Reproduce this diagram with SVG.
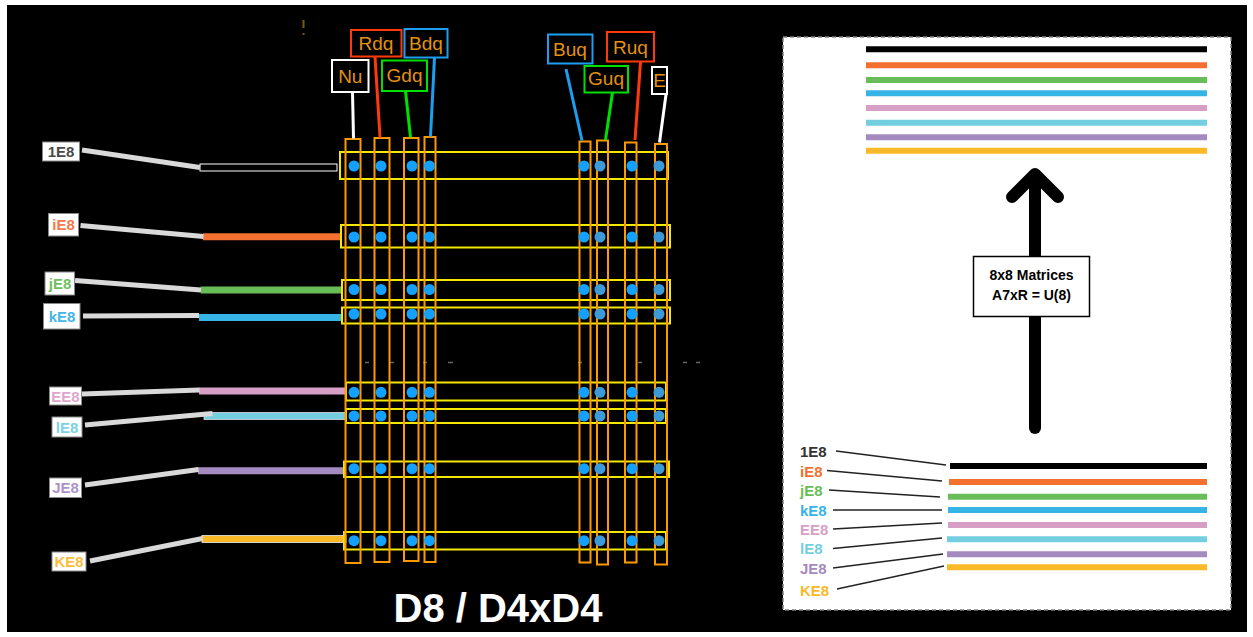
<svg xmlns="http://www.w3.org/2000/svg" width="1253" height="637" viewBox="0 0 1253 637">
<style>
.col{fill:none;stroke:#ff9900;stroke-width:2}
.row{fill:none;stroke:#f5e800;stroke-width:2}
.dot{fill:#14a0ff}
.dotm{fill:#3d9ad8}
.tl{font-family:"Liberation Sans",Arial,sans-serif;font-size:19px;fill:#e39210;text-anchor:middle}
.lb{fill:#ffffff;stroke:#888;stroke-width:1}
.lt{font-family:"Liberation Sans",Arial,sans-serif;font-size:15px;font-weight:bold;text-anchor:middle}
.lead{stroke:#d9d9d9;stroke-width:5;fill:none}
.bar{stroke-width:7;fill:none}
.rb{stroke-width:6;fill:none}
.rl{stroke:#222;stroke-width:1.3;fill:none}
.rt{font-family:"Liberation Sans",Arial,sans-serif;font-size:14px;font-weight:bold}
.rlt{font-family:"Liberation Sans",Arial,sans-serif;font-size:15px;font-weight:bold}
</style>
<rect x="0" y="0" width="1253" height="637" fill="#ffffff"/>
<rect x="7" y="5" width="1240" height="627" fill="#000000"/>

<!-- stray marks -->
<rect x="302.5" y="20" width="2" height="8" fill="#7a5a10"/>
<rect x="302.5" y="33" width="2" height="2" fill="#7a5a10"/>
<g stroke="#666" stroke-width="1.5">
<line x1="365" y1="362.5" x2="369" y2="362.5"/><line x1="390" y1="362.5" x2="394" y2="362.5"/>
<line x1="423" y1="362.5" x2="427" y2="362.5"/><line x1="448" y1="362.5" x2="453" y2="362.5"/>
<line x1="578" y1="362.5" x2="582" y2="362.5"/><line x1="638" y1="362.5" x2="642" y2="362.5"/>
<line x1="683" y1="362.5" x2="687" y2="362.5"/><line x1="696" y1="362.5" x2="700" y2="362.5"/>
</g>

<!-- left colored bars -->
<g id="bars-left">
<rect x="200" y="164" width="137" height="7" fill="#000" stroke="#ffffff" stroke-width="1"/>
<line class="bar" x1="203" y1="236.7" x2="341" y2="236.7" stroke="#f37030"/>
<line class="bar" x1="200.7" y1="290" x2="342" y2="290" stroke="#68bd58"/>
<line class="bar" x1="199" y1="317.5" x2="342" y2="317.5" stroke="#37b4e6"/>
<line class="bar" x1="199" y1="391" x2="346" y2="391" stroke="#d89fc6"/>
<rect x="204" y="412.5" width="142" height="7" fill="#73cfdf" stroke="#dddddd" stroke-width="0.8"/>
<line class="bar" x1="198" y1="470.7" x2="346" y2="470.7" stroke="#a58ac0"/>
<rect x="202" y="535.5" width="144" height="7" fill="#f9b928" stroke="#eeeeee" stroke-width="0.8"/>
</g>

<!-- grid rows -->
<g id="rows">
<rect class="row" x="340" y="152" width="328" height="27"/>
<rect class="row" x="341" y="225" width="329" height="22.5"/>
<rect class="row" x="342" y="280" width="328" height="20"/>
<rect class="row" x="342" y="307.5" width="328" height="16"/>
<rect class="row" x="346" y="382.5" width="320" height="18"/>
<rect class="row" x="346" y="409" width="320" height="14"/>
<rect class="row" x="344" y="461.5" width="325" height="15.5"/>
<rect class="row" x="344" y="532" width="322" height="17.5"/>
</g>

<!-- grid columns -->
<g id="columns">
<rect class="col" x="345.5" y="139" width="15" height="424"/>
<rect class="col" x="374.5" y="138" width="15" height="424"/>
<rect class="col" x="404" y="138" width="14.5" height="423"/>
<rect class="col" x="424.5" y="137" width="11" height="425"/>
<rect class="col" x="579.5" y="141.5" width="11" height="421"/>
<rect class="col" x="597" y="140.5" width="11" height="424"/>
<rect class="col" x="625" y="142.5" width="11.5" height="420"/>
<rect class="col" x="655" y="144" width="12" height="420.5"/>
</g>

<!-- dots -->
<g id="dots">
<g transform="translate(0,166)"><circle class="dot" cx="354" cy="0" r="5.5"/><circle class="dot" cx="381" cy="0" r="5.5"/><circle class="dot" cx="412" cy="0" r="5.5"/><circle class="dot" cx="429.5" cy="0" r="5.5"/><circle class="dot" cx="584" cy="0" r="5.5"/><circle class="dotm" cx="600" cy="0" r="5.5"/><circle class="dot" cx="632" cy="0" r="5.5"/><circle class="dotm" cx="659" cy="0" r="5.5"/></g>
<g transform="translate(0,237)"><circle class="dot" cx="354" cy="0" r="5.5"/><circle class="dot" cx="381" cy="0" r="5.5"/><circle class="dot" cx="412" cy="0" r="5.5"/><circle class="dot" cx="429.5" cy="0" r="5.5"/><circle class="dot" cx="584" cy="0" r="5.5"/><circle class="dotm" cx="600" cy="0" r="5.5"/><circle class="dot" cx="632" cy="0" r="5.5"/><circle class="dotm" cx="659" cy="0" r="5.5"/></g>
<g transform="translate(0,289.5)"><circle class="dot" cx="354" cy="0" r="5.5"/><circle class="dot" cx="381" cy="0" r="5.5"/><circle class="dot" cx="412" cy="0" r="5.5"/><circle class="dot" cx="429.5" cy="0" r="5.5"/><circle class="dot" cx="584" cy="0" r="5.5"/><circle class="dotm" cx="600" cy="0" r="5.5"/><circle class="dot" cx="632" cy="0" r="5.5"/><circle class="dotm" cx="659" cy="0" r="5.5"/></g>
<g transform="translate(0,314)"><circle class="dot" cx="354" cy="0" r="5.5"/><circle class="dot" cx="381" cy="0" r="5.5"/><circle class="dot" cx="412" cy="0" r="5.5"/><circle class="dot" cx="429.5" cy="0" r="5.5"/><circle class="dot" cx="584" cy="0" r="5.5"/><circle class="dotm" cx="600" cy="0" r="5.5"/><circle class="dot" cx="632" cy="0" r="5.5"/><circle class="dotm" cx="659" cy="0" r="5.5"/></g>
<g transform="translate(0,392.3)"><circle class="dot" cx="354" cy="0" r="5.5"/><circle class="dot" cx="381" cy="0" r="5.5"/><circle class="dot" cx="412" cy="0" r="5.5"/><circle class="dot" cx="429.5" cy="0" r="5.5"/><circle class="dot" cx="584" cy="0" r="5.5"/><circle class="dotm" cx="600" cy="0" r="5.5"/><circle class="dot" cx="632" cy="0" r="5.5"/><circle class="dotm" cx="659" cy="0" r="5.5"/></g>
<g transform="translate(0,416)"><circle class="dot" cx="354" cy="0" r="5.5"/><circle class="dot" cx="381" cy="0" r="5.5"/><circle class="dot" cx="412" cy="0" r="5.5"/><circle class="dot" cx="429.5" cy="0" r="5.5"/><circle class="dot" cx="584" cy="0" r="5.5"/><circle class="dotm" cx="600" cy="0" r="5.5"/><circle class="dot" cx="632" cy="0" r="5.5"/><circle class="dotm" cx="659" cy="0" r="5.5"/></g>
<g transform="translate(0,468.7)"><circle class="dot" cx="354" cy="0" r="5.5"/><circle class="dot" cx="381" cy="0" r="5.5"/><circle class="dot" cx="412" cy="0" r="5.5"/><circle class="dot" cx="429.5" cy="0" r="5.5"/><circle class="dot" cx="584" cy="0" r="5.5"/><circle class="dotm" cx="600" cy="0" r="5.5"/><circle class="dot" cx="632" cy="0" r="5.5"/><circle class="dotm" cx="659" cy="0" r="5.5"/></g>
<g transform="translate(0,540.7)"><circle class="dot" cx="354" cy="0" r="5.5"/><circle class="dot" cx="381" cy="0" r="5.5"/><circle class="dot" cx="412" cy="0" r="5.5"/><circle class="dot" cx="429.5" cy="0" r="5.5"/><circle class="dot" cx="584" cy="0" r="5.5"/><circle class="dotm" cx="600" cy="0" r="5.5"/><circle class="dot" cx="632" cy="0" r="5.5"/><circle class="dotm" cx="659" cy="0" r="5.5"/></g>
</g>

<!-- connectors -->
<g id="connectors">
<line class="lead" x1="82" y1="150" x2="200" y2="167.5"/>
<line class="lead" x1="80.5" y1="225.5" x2="203.5" y2="236.5"/>
<line class="lead" x1="75" y1="280.5" x2="201" y2="290"/>
<line class="lead" x1="83" y1="316" x2="199" y2="315.5"/>
<line class="lead" x1="82" y1="394" x2="199.5" y2="390"/>
<line class="lead" x1="85" y1="425" x2="212.5" y2="413.5"/>
<line class="lead" x1="85" y1="485" x2="198.5" y2="469.5"/>
<line class="lead" x1="90" y1="561" x2="202.5" y2="538.5"/>
<line x1="352.5" y1="92" x2="353.5" y2="138.5" stroke="#ffffff" stroke-width="3"/>
<line x1="375" y1="56.5" x2="380" y2="137.5" stroke="#ff3a0a" stroke-width="3"/>
<line x1="405.5" y1="91" x2="410.5" y2="137.5" stroke="#00e000" stroke-width="3"/>
<line x1="434.5" y1="57.5" x2="430.5" y2="136.5" stroke="#1c9ff0" stroke-width="3"/>
<line x1="566" y1="69" x2="582" y2="140.5" stroke="#1c9ff0" stroke-width="3"/>
<line x1="612.5" y1="92.5" x2="605.5" y2="140" stroke="#00e000" stroke-width="3"/>
<line x1="640.5" y1="62" x2="635" y2="140" stroke="#ff3a0a" stroke-width="3"/>
<line x1="666" y1="94.5" x2="659.5" y2="142.5" stroke="#ffffff" stroke-width="3"/>
</g>

<!-- left labels -->
<g id="lbl-1E8"><rect class="lb" x="42.5" y="142" width="37" height="19"/><text class="lt" x="61" y="157" fill="#4a4a4a">1E8</text></g>
<g id="lbl-iE8"><rect class="lb" x="48.5" y="213.5" width="30" height="22.5"/><text class="lt" x="63.5" y="230" fill="#f6794a">iE8</text></g>
<g id="lbl-jE8"><rect class="lb" x="45" y="272" width="29.5" height="23"/><text class="lt" x="60" y="289" fill="#6fbf62">jE8</text></g>
<g id="lbl-kE8"><rect class="lb" x="43.5" y="303.5" width="36.5" height="25.5"/><text class="lt" x="62" y="322" fill="#45b6e8">kE8</text></g>
<g id="lbl-EE8"><rect class="lb" x="49.5" y="387" width="32" height="18"/><text class="lt" x="65.5" y="401.5" fill="#dfa6cc">EE8</text></g>
<g id="lbl-lE8"><rect class="lb" x="52" y="417" width="30" height="20"/><text class="lt" x="67" y="432.5" fill="#7bd2e2">lE8</text></g>
<g id="lbl-JE8"><rect class="lb" x="49.5" y="478" width="32" height="19.5"/><text class="lt" x="65.5" y="493" fill="#ae93c8">JE8</text></g>
<g id="lbl-KE8"><rect class="lb" x="52" y="552" width="34" height="19"/><text class="lt" x="69" y="567" fill="#fbbc40">KE8</text></g>

<!-- top labels -->
<g id="lbl-Nu"><rect x="332" y="60" width="36.5" height="32" fill="#000" stroke="#ffffff" stroke-width="2"/><text class="tl" x="350.3" y="83">Nu</text></g>
<g id="lbl-Rdq"><rect x="351" y="30" width="50.5" height="26.5" fill="#000" stroke="#ff3a0a" stroke-width="2"/><text class="tl" x="376" y="50">Rdq</text></g>
<g id="lbl-Bdq"><rect x="404.5" y="29" width="43" height="28.5" fill="#000" stroke="#1c9ff0" stroke-width="2"/><text class="tl" x="426" y="50">Bdq</text></g>
<g id="lbl-Gdq"><rect x="382" y="60.5" width="45" height="30.5" fill="#000" stroke="#00e000" stroke-width="2"/><text class="tl" x="404.5" y="82">Gdq</text></g>
<g id="lbl-Buq"><rect x="548" y="34.5" width="44.5" height="29" fill="#000" stroke="#1c9ff0" stroke-width="2"/><text class="tl" x="570" y="56">Buq</text></g>
<g id="lbl-Guq"><rect x="584.5" y="66" width="43.5" height="26.5" fill="#000" stroke="#00e000" stroke-width="2"/><text class="tl" x="606" y="85">Guq</text></g>
<g id="lbl-Ruq"><rect x="607" y="32" width="47" height="29.5" fill="#000" stroke="#ff3a0a" stroke-width="2"/><text class="tl" x="630.5" y="54">Ruq</text></g>
<g id="lbl-E"><rect x="652" y="67" width="15" height="27" fill="#000" stroke="#ffffff" stroke-width="2"/><text class="tl" x="659.5" y="87">E</text></g>

<text x="498" y="622" font-family="'Liberation Sans',Arial,sans-serif" font-size="40" font-weight="bold" fill="#ffffff" text-anchor="middle">D8 / D4xD4</text>

<!-- right panel -->
<g id="panel">
<rect x="783" y="37" width="448" height="573" fill="#ffffff" stroke="#808080" stroke-width="1.5" stroke-dasharray="4 3"/>
<g id="bars-top">
<line class="rb" x1="866" y1="49.3" x2="1207" y2="49.3" stroke="#000000"/>
<line class="rb" x1="866" y1="65.3" x2="1207" y2="65.3" stroke="#f37030"/>
<line class="rb" x1="866" y1="80" x2="1207" y2="80" stroke="#68bd58"/>
<line class="rb" x1="866" y1="93.3" x2="1207" y2="93.3" stroke="#37b4e6"/>
<line class="rb" x1="866" y1="108" x2="1207" y2="108" stroke="#d89fc6"/>
<line class="rb" x1="866" y1="122.7" x2="1207" y2="122.7" stroke="#73cfdf"/>
<line class="rb" x1="866" y1="137.3" x2="1207" y2="137.3" stroke="#a58ac0"/>
<line class="rb" x1="866" y1="150.7" x2="1207" y2="150.7" stroke="#f9b928"/>
</g>
<g id="arrow">
<line x1="1035" y1="428" x2="1035" y2="180" stroke="#000" stroke-width="12" stroke-linecap="round"/>
<polyline points="1012,197 1035,174 1058,197" fill="none" stroke="#000" stroke-width="12" stroke-linecap="round" stroke-linejoin="round"/>
</g>
<g id="box-matrices">
<rect x="973.5" y="256.5" width="116" height="60" fill="#ffffff" stroke="#000" stroke-width="1.5"/>
<text class="rt" x="1031.5" y="280" text-anchor="middle" fill="#000">8x8 Matrices</text>
<text class="rt" x="1031.5" y="300" text-anchor="middle" fill="#000">A7xR = U(8)</text>
</g>
<g id="bars-bottom">
<line class="rb" x1="950" y1="466" x2="1207" y2="466" stroke="#000000"/>
<line class="rb" x1="949" y1="482" x2="1207" y2="482" stroke="#f37030"/>
<line class="rb" x1="948" y1="496.7" x2="1207" y2="496.7" stroke="#68bd58"/>
<line class="rb" x1="948" y1="510" x2="1207" y2="510" stroke="#37b4e6"/>
<line class="rb" x1="948" y1="525" x2="1207" y2="525" stroke="#d89fc6"/>
<line class="rb" x1="947" y1="539.3" x2="1207" y2="539.3" stroke="#73cfdf"/>
<line class="rb" x1="947" y1="554.3" x2="1207" y2="554.3" stroke="#a58ac0"/>
<line class="rb" x1="947" y1="567.3" x2="1207" y2="567.3" stroke="#f9b928"/>
</g>
<g id="legend-leaders">
<line class="rl" x1="836" y1="451" x2="946" y2="465"/>
<line class="rl" x1="827" y1="470.5" x2="942" y2="481"/>
<line class="rl" x1="829" y1="490" x2="940" y2="497"/>
<line class="rl" x1="833" y1="510" x2="942" y2="510"/>
<line class="rl" x1="833" y1="529" x2="942" y2="523"/>
<line class="rl" x1="833" y1="548.5" x2="942" y2="538"/>
<line class="rl" x1="833" y1="568" x2="943" y2="554"/>
<line class="rl" x1="837" y1="589" x2="944" y2="566"/>
</g>
<g id="legend-labels">
<text class="rlt" x="800" y="456.5" fill="#333">1E8</text>
<text class="rlt" x="800" y="476.5" fill="#f37030">iE8</text>
<text class="rlt" x="800" y="496" fill="#68bd58">jE8</text>
<text class="rlt" x="800" y="515.5" fill="#37b4e6">kE8</text>
<text class="rlt" x="800" y="534.5" fill="#d89fc6">EE8</text>
<text class="rlt" x="800" y="554" fill="#73cfdf">lE8</text>
<text class="rlt" x="800" y="573.5" fill="#a58ac0">JE8</text>
<text class="rlt" x="800" y="595.5" fill="#f9b928">KE8</text>
</g>
</g>
</svg>
